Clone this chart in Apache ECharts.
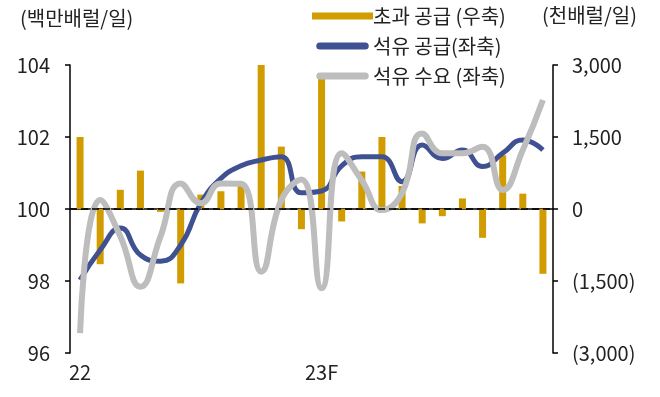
<!DOCTYPE html>
<html>
<head>
<meta charset="utf-8">
<script src="https://cdn.jsdelivr.net/npm/echarts@6/dist/echarts.min.js"></script>
<style>
  html, body { margin: 0; padding: 0; background: #fff; }
  #chart { width: 660px; height: 397px; }
</style>
</head>
<body>
<div id="chart"></div>
<script>
// monthly, Jan 2022 - Dec 2023
const months = ['22.01','22.02','22.03','22.04','22.05','22.06','22.07','22.08','22.09','22.10','22.11','22.12',
                '23.01','23.02','23.03','23.04','23.05','23.06','23.07','23.08','23.09','23.10','23.11','23.12'];
const tickLabels = { '22.01': '22', '23.01': '23F' };

// 초과 공급 (천배럴/일, 우축)
const excessSupply = [1500, -1150, 400, 800, -60, -1550, 300, 370, 540, 3000, 1300, -420,
                      2750, -260, 780, 1500, 480, -300, -150, 220, -600, 1120, 320, -1350];
// 석유 공급 (백만배럴/일, 좌축)
const oilSupply = [98.03, 98.86, 99.47, 98.72, 98.55, 99.0, 100.16, 100.85, 101.2, 101.36, 101.45, 100.45,
                   100.5, 101.2, 101.45, 101.45, 100.76, 101.78, 101.4, 101.64, 101.18, 101.55, 101.92, 101.64];
// 석유 수요 (백만배럴/일, 좌축)
const oilDemand = [96.55, 100.25, 99.24, 97.84, 99.24, 100.71, 100.16, 100.71, 100.7, 98.26, 100.25, 100.82,
                   97.8, 101.55, 100.8, 99.97, 100.44, 102.1, 101.55, 101.55, 101.73, 100.53, 101.64, 103.03];

const leftTicks = { min: 96, max: 104, interval: 2 };
const rightTicks = { min: -3000, max: 3000, interval: 1500 };

const font = '"Noto Sans CJK KR", "Noto Sans", sans-serif';
const textColor = '#222';
const capsule = 'path://M4,0 L56,0 A4,4 0 0 1 56,8 L4,8 A4,4 0 0 1 4,0 Z';

const chart = echarts.init(document.getElementById('chart'));

function fmtRight(v) {
  const s = Math.abs(v).toLocaleString('en-US');
  return v < 0 ? '(' + s + ')' : s;
}

const option = {
  animation: false,
  textStyle: { fontFamily: font },
  grid: { left: 70, right: 107, top: 65, bottom: 44 },
  legend: {
    orient: 'vertical',
    left: 307,
    top: 1,
    itemWidth: 61,
    itemHeight: 7,
    itemGap: 10,
    textStyle: { fontSize: 20, color: textColor, fontFamily: font, padding: [0, 0, 0, -5] },
    data: [
      { name: '초과 공급 (우축)', icon: 'rect' },
      { name: '석유 공급(좌축)', icon: capsule },
      { name: '석유 수요 (좌축)', icon: capsule }
    ]
  },
  graphic: [
    { type: 'text', left: 20, top: 8, style: { text: '(백만배럴/일)', font: '20px ' + font, fill: textColor } },
    { type: 'text', left: 542, top: 5, style: { text: '(천배럴/일)', font: '20px ' + font, fill: textColor } }
  ],
  xAxis: {
    type: 'category',
    data: months,
    boundaryGap: true,
    axisLine: { lineStyle: { color: '#000', width: 1.5 } },
    axisTick: { length: 6, interval: 11, lineStyle: { color: '#000', width: 1.5 } },
    axisLabel: {
      interval: 11,
      formatter: (v) => tickLabels[v] || '',
      fontSize: 20, color: textColor, margin: 9
    }
  },
  yAxis: [
    {
      type: 'value',
      min: leftTicks.min, max: leftTicks.max, interval: leftTicks.interval,
      axisLine: { show: true, lineStyle: { color: '#000', width: 1.5 } },
      axisTick: { show: true, length: 5, lineStyle: { color: '#000', width: 1.5 } },
      axisLabel: { fontSize: 20, color: textColor, margin: 20 },
      splitLine: { show: false }
    },
    {
      type: 'value',
      min: rightTicks.min, max: rightTicks.max, interval: rightTicks.interval,
      axisLine: { show: true, lineStyle: { color: '#000', width: 1.5 } },
      axisTick: { show: true, length: 5, lineStyle: { color: '#000', width: 1.5 } },
      axisLabel: { fontSize: 20, color: textColor, margin: 19, formatter: fmtRight },
      splitLine: { show: false }
    }
  ],
  series: [
    {
      name: '초과 공급 (우축)',
      type: 'bar',
      yAxisIndex: 1,
      data: excessSupply,
      barWidth: 7,
      itemStyle: { color: '#D09C00' },
      markLine: {
        silent: true,
        symbol: 'none',
        label: { show: false },
        lineStyle: { color: '#000', type: [7, 4], width: 1.5 },
        data: [{ yAxis: 0 }]
      }
    },
    {
      name: '석유 공급(좌축)',
      type: 'line',
      yAxisIndex: 0,
      data: oilSupply,
      smooth: 0.5,
      showSymbol: false,
      lineStyle: { color: '#3F5190', width: 5 },
      itemStyle: { color: '#3F5190' }
    },
    {
      name: '석유 수요 (좌축)',
      type: 'line',
      yAxisIndex: 0,
      data: oilDemand,
      smooth: 0.5,
      showSymbol: false,
      lineStyle: { color: '#BDBDBD', width: 6 },
      itemStyle: { color: '#BDBDBD' }
    }
  ]
};

chart.setOption(option);
</script>
</body>
</html>
